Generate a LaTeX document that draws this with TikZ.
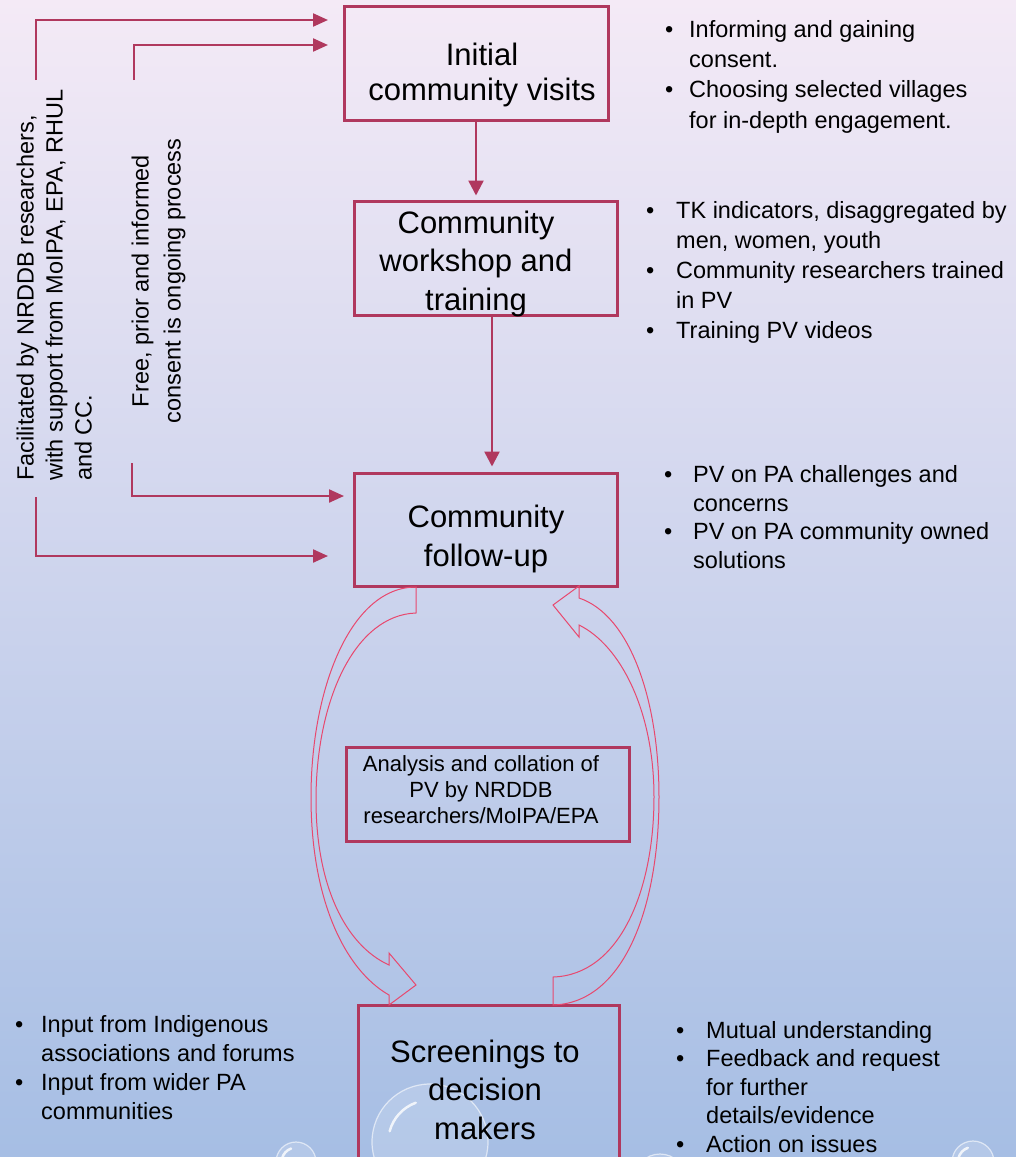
\documentclass[tikz,border=0pt]{standalone}
\usepackage{fontspec}
\setmainfont{Liberation Sans}
\usetikzlibrary{arrows.meta,calc}
\definecolor{bordc}{RGB}{176,56,94}
\definecolor{curvc}{RGB}{232,72,110}
\definecolor{bgtop}{RGB}{244,234,246}
\definecolor{bgmid}{RGB}{221,221,239}
\definecolor{bgbot}{RGB}{166,190,228}
\newcommand{\lbul}[1]{\makebox[#1pt][l]{•}}
\newcommand{\lind}[1]{\hspace*{#1pt}}
\tikzset{
  box/.style={draw=bordc, line width=3pt, inner sep=0pt},
  boxtxt/.style={font=\fontsize{31}{38.5}\selectfont, align=center, inner sep=0pt, anchor=base},
  listtxt/.style={font=\fontsize{23.5}{30}\selectfont, align=left, inner sep=0pt, anchor=base west},
  vtxt/.style={font=\fontsize{23.5}{29}\selectfont, inner sep=0pt, rotate=90},
  varr/.style={draw=bordc, line width=2.5pt, -{Triangle[length=15pt,width=15pt]}},
  larr/.style={draw=bordc, line width=2.2pt, -{Triangle[length=15pt,width=13pt]}},
  curv/.style={draw=curvc, line width=1pt, line join=miter},
  bubfill/.style={fill=white, opacity=0.16},
  bubline/.style={draw=white, opacity=0.6, line width=1.2pt}
}
\begin{document}
\begin{tikzpicture}[x=1pt,y=-1pt]
\useasboundingbox (0,0) rectangle (1016,1157);
\clip (0,0) rectangle (1016,1157);
\shade[top color=bgtop, middle color=bgmid, bottom color=bgbot] (0,0) rectangle (1016,1157);

% bubbles
\foreach \cx/\cy/\rr in {296/1162/20, 430/1142/58, 660/1180/26, 973/1162/21}{
  \fill[bubfill] (\cx,\cy) circle (\rr);
  \draw[bubline] (\cx,\cy) circle (\rr);
  \draw[white, opacity=0.8, line width=2.5pt, line cap=round] ($(\cx,\cy)+(195:0.72*\rr)$) arc (195:250:0.72*\rr);
}

% main boxes
\node[box, minimum width=264pt, minimum height=114pt] (b1) at (476,63) {};
\node[box, minimum width=263pt, minimum height=114pt] (b2) at (485.5,258) {};
\node[box, minimum width=263pt, minimum height=113pt] (b3) at (485.5,529.5) {};
\node[box, minimum width=283pt, minimum height=94pt] (b4) at (487.5,794) {};
\node[box, minimum width=261pt, minimum height=170pt] (b5) at (488.5,1090) {};

\node[boxtxt] (t1) at (482,100) {Initial\\[-3.5pt]community visits};
\node[boxtxt] (t2) at (476,310) {Community\\workshop and\\training};
\node[boxtxt, font=\fontsize{31}{39}\selectfont] (t3) at (486,566) {Community\\follow-up};
\node[boxtxt] (t5) at (485,1139) {Screenings to\\decision\\makers};
\node[boxtxt, font=\fontsize{22}{26}\selectfont] (t4) at (481,823) {Analysis and collation of\\PV by NRDDB\\researchers/MoIPA/EPA};

% vertical arrows
\draw[varr, shorten >=4pt] (b1.south) -- (b1.south |- b2.north);
\coordinate (a2) at (492,0);
\draw[varr, shorten >=5pt] (b2.south -| a2) -- (b3.north -| a2);

% left connectors
\coordinate (fa1) at (36,80);
\coordinate (ft1) at (328,20);
\coordinate (fr1) at (134,80);
\coordinate (frt1) at (328,45);
\coordinate (fr2) at (132,463);
\coordinate (frt2) at (344,496);
\coordinate (fa2) at (36,497);
\coordinate (ft2) at (328,556);
\draw[larr] (fa1) |- (ft1);
\draw[larr] (fr1) |- (frt1);
\draw[larr] (fr2) |- (frt2);
\draw[larr] (fa2) |- (ft2);

% rotated texts
\node[vtxt, anchor=base west, align=left] (fac) at (91.5,481) {Facilitated by NRDDB researchers,\\with support from MoIPA, EPA, RHUL\\and CC.};
\node[vtxt, anchor=base, align=center, font=\fontsize{23.5}{32}\selectfont] (fpic) at (180.5,281) {Free, prior and informed\\consent is ongoing process};

% curved block arrows
\draw[curv] (416,587) -- (416,613)
  .. controls (355,615) and (316,700) .. (316,800)
  .. controls (316,885) and (345,945) .. (389,965)
  -- (389,953) -- (416,985) -- (389,1005) -- (389,995)
  .. controls (345,970) and (311,900) .. (311,797)
  .. controls (311,690) and (350,587) .. cycle;
\draw[curv] (553,1005) -- (553,977)
  .. controls (620,975) and (654,890) .. (654,797)
  .. controls (654,710) and (620,645) .. (579,625)
  -- (579,637) -- (553,605) -- (579,586) -- (579,598)
  .. controls (630,615) and (659,700) .. (659,797)
  .. controls (659,905) and (625,1003) .. cycle;

% side lists
\node[listtxt, font=\fontsize{23.5}{30.3}\selectfont] (l1) at (665,128) {\lbul{24}Informing and gaining\\\lind{24}consent.\\\lbul{24}Choosing selected villages\\\lind{24}for in-depth engagement.};
\node[listtxt] (l2) at (646,338) {\lbul{30}TK indicators, disaggregated by\\\lind{30}men, women, youth\\\lbul{30}Community researchers trained\\\lind{30}in PV\\\lbul{30}Training PV videos};
\node[listtxt, font=\fontsize{23.5}{28.5}\selectfont] (l3) at (664,568) {\lbul{29}PV on PA challenges and\\\lind{29}concerns\\\lbul{29}PV on PA community owned\\\lind{29}solutions};
\node[listtxt, font=\fontsize{23.5}{28.7}\selectfont] (l4) at (15,1119) {\lbul{26}Input from Indigenous\\\lind{26}associations and forums\\\lbul{26}Input from wider PA\\\lind{26}communities};
\node[listtxt, font=\fontsize{23.5}{28.5}\selectfont] (l5) at (676,1152) {\lbul{30}Mutual understanding\\\lbul{30}Feedback and request\\\lind{30}for further\\\lind{30}details/evidence\\\lbul{30}Action on issues};
\end{tikzpicture}
\end{document}
